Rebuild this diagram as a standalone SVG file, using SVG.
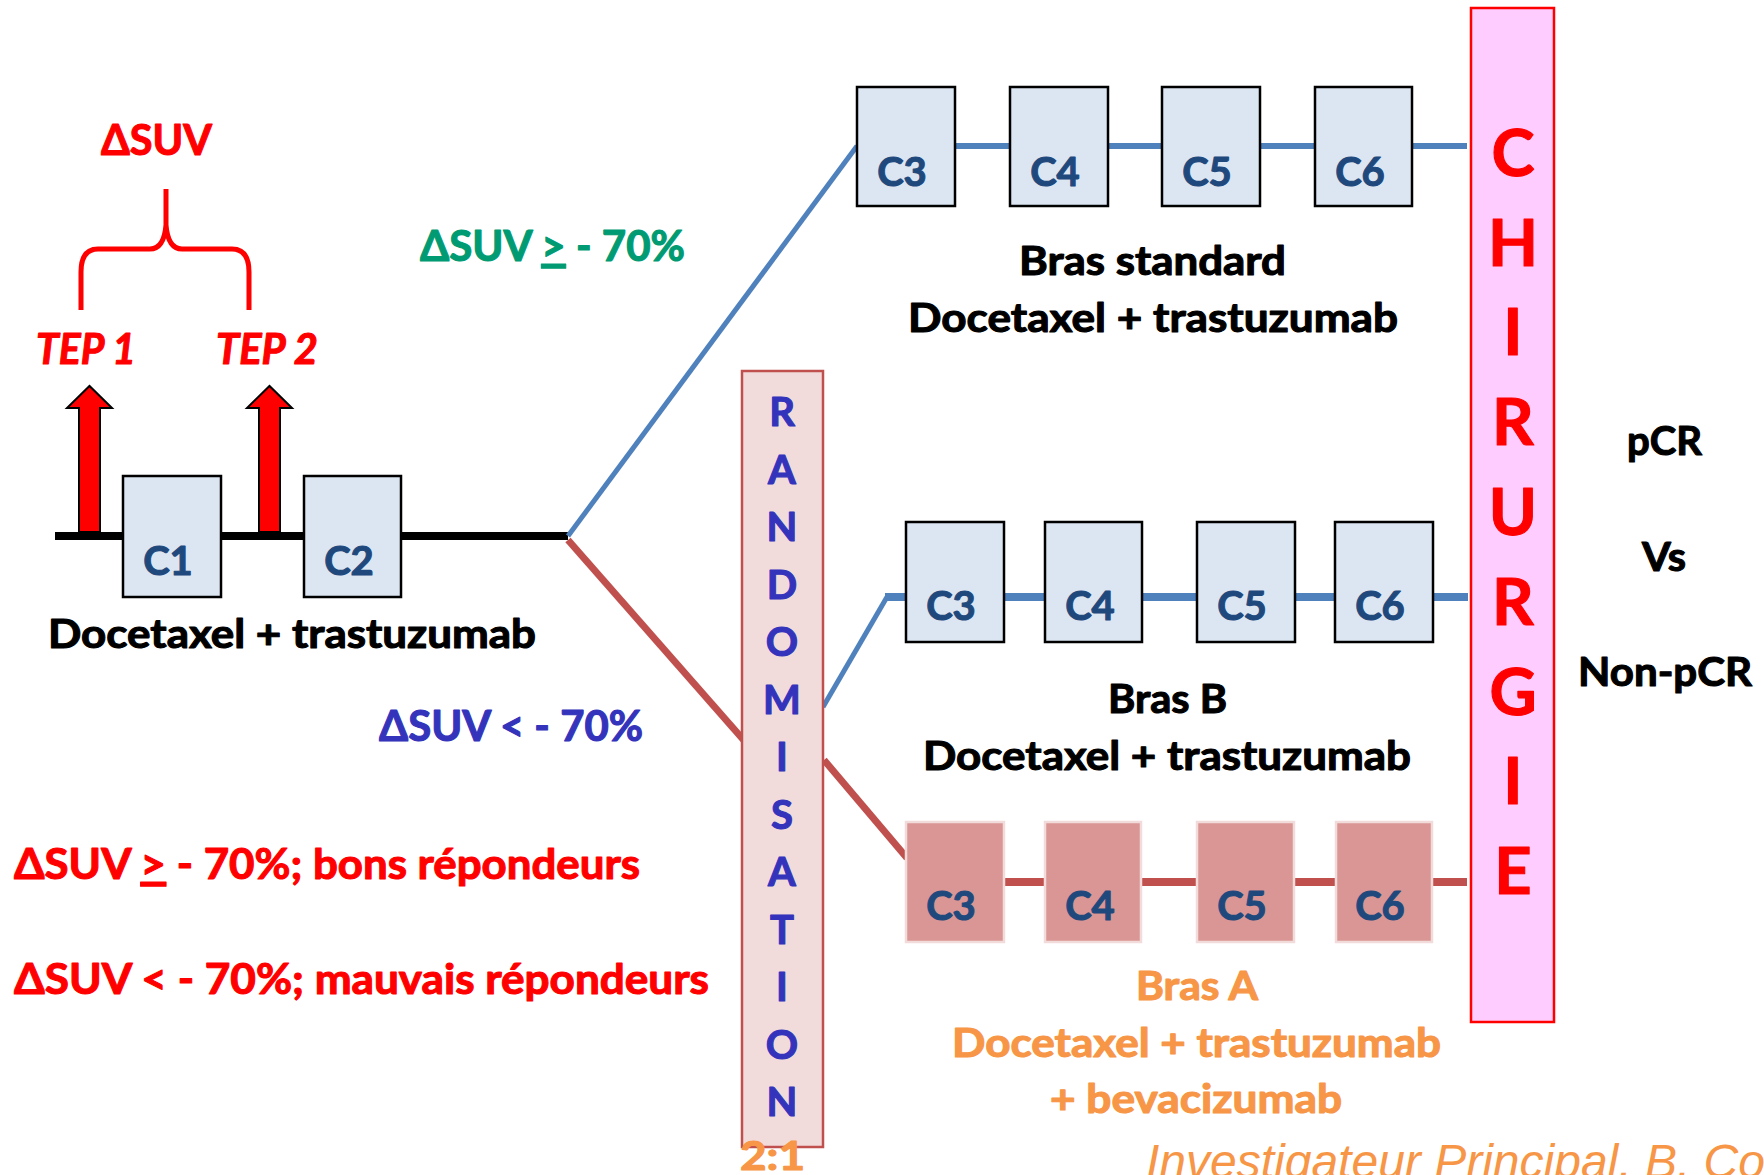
<svg xmlns="http://www.w3.org/2000/svg" width="1764" height="1175" viewBox="0 0 1764 1175">
<style>
  text { font-family: Lato, "Open Sans", "DejaVu Sans", sans-serif; font-weight: bold; stroke-width: 1.1px; stroke-linejoin: round; }
  .box { fill: #DCE6F2; stroke: #000; stroke-width: 2.5; }
  .rbox { fill: #D99694; stroke: #F2DCDB; stroke-width: 2.5; }
  .lbl { font-size: 40px; fill: #1F497D; stroke: #1F497D; text-anchor: middle; }
  .blk { font-size: 40px; fill: #000; stroke: #000; }
  .org { font-size: 40px; fill: #F79646; stroke: #F79646; }
  .red { font-size: 42px; fill: #FF0000; stroke: #FF0000; }
  .grn { font-size: 42px; fill: #009B72; stroke: #009B72; }
  .blu { font-size: 42px; fill: #3333BB; stroke: #3333BB; }
  .rnd { font-size: 40px; fill: #3333BB; stroke: #3333BB; text-anchor: middle; }
  .chi { font-size: 65px; fill: #FF0000; stroke: #FF0000; text-anchor: middle; }
  .bl { stroke: #4F81BD; fill: none; }
  .rl { stroke: #C0504D; fill: none; }
  .arrow { fill: #FF0000; stroke: #000; stroke-width: 2; }
  .credit { font-family: "Liberation Sans", Arial, sans-serif; font-weight: normal; font-style: italic; font-size: 48px; fill: #F79646; stroke: none; }
</style>

<g id="connectors">
  <line x1="55" y1="536" x2="568" y2="536" stroke="#000" stroke-width="8"/>
  <path class="bl" d="M568 536 L857 146" stroke-width="5"/>
  <path class="bl" d="M955 146 H1010 M1108 146 H1162 M1260 146 H1315 M1412 146 H1467" stroke-width="6"/>
  <path class="rl" d="M568 540 L748 745" stroke-width="7"/>
  <path class="bl" d="M823 707 L887 597" stroke-width="5"/>
  <path class="bl" d="M885 597 H906 M1004 597 H1045 M1142 597 H1197 M1295 597 H1335 M1433 597 H1468" stroke-width="8"/>
  <path class="rl" d="M824 760 L907 858" stroke-width="7"/>
  <path class="rl" d="M1004 882 H1045 M1141 882 H1197 M1294 882 H1336 M1432 882 H1467" stroke-width="8"/>
</g>

<g id="brace">
  <path d="M81 310 V272 Q81 249 98 249 H150 Q164 249 166 225 V189 M166 225 Q168 249 182 249 H232 Q249 249 249 272 V310" fill="none" stroke="#FF0000" stroke-width="5"/>
  <text class="red" x="101" y="155" textLength="111" lengthAdjust="spacingAndGlyphs">ΔSUV</text>
</g>

<g id="tep1">
  <polygon class="arrow" points="79,532 100,532 100,408 112,408 89.5,386 67,408 79,408"/>
  <text class="red" x="36" y="364" font-style="italic" textLength="100" lengthAdjust="spacingAndGlyphs">TEP 1</text>
</g>
<g id="tep2">
  <polygon class="arrow" points="259,532 280,532 280,408 292,408 269.5,386 247,408 259,408"/>
  <text class="red" x="216" y="364" font-style="italic" textLength="102" lengthAdjust="spacingAndGlyphs">TEP 2</text>
</g>

<g id="c1"><rect class="box" x="123" y="476" width="98" height="121"/><text class="lbl" x="168" y="575">C1</text></g>
<g id="c2"><rect class="box" x="304" y="476" width="97" height="121"/><text class="lbl" x="349" y="575">C2</text></g>
<g id="label-left"><text class="blk" x="48" y="648" textLength="488" lengthAdjust="spacingAndGlyphs">Docetaxel + trastuzumab</text></g>

<g id="cond-green"><text class="grn" x="420" y="261" textLength="265" lengthAdjust="spacingAndGlyphs">ΔSUV <tspan text-decoration="underline">&gt;</tspan> - 70%</text></g>
<g id="cond-blue"><text class="blu" x="379" y="741" textLength="264" lengthAdjust="spacingAndGlyphs">ΔSUV &lt; - 70%</text></g>
<g id="legend">
  <text class="red" x="14" y="879" textLength="626" lengthAdjust="spacingAndGlyphs">ΔSUV <tspan text-decoration="underline">&gt;</tspan> - 70%; bons répondeurs</text>
  <text class="red" x="14" y="994" textLength="695" lengthAdjust="spacingAndGlyphs">ΔSUV &lt; - 70%; mauvais répondeurs</text>
</g>

<g id="arm-standard">
  <g id="s-c3"><rect class="box" x="857" y="87" width="98" height="119"/><text class="lbl" x="902" y="186">C3</text></g>
  <g id="s-c4"><rect class="box" x="1010" y="87" width="98" height="119"/><text class="lbl" x="1055" y="186">C4</text></g>
  <g id="s-c5"><rect class="box" x="1162" y="87" width="98" height="119"/><text class="lbl" x="1207" y="186">C5</text></g>
  <g id="s-c6"><rect class="box" x="1315" y="87" width="97" height="119"/><text class="lbl" x="1360" y="186">C6</text></g>
  <text class="blk" x="1019" y="275" textLength="267" lengthAdjust="spacingAndGlyphs">Bras standard</text>
  <text class="blk" x="908" y="332" textLength="490" lengthAdjust="spacingAndGlyphs">Docetaxel + trastuzumab</text>
</g>

<g id="arm-b">
  <g id="b-c3"><rect class="box" x="906" y="522" width="98" height="120"/><text class="lbl" x="951" y="620">C3</text></g>
  <g id="b-c4"><rect class="box" x="1045" y="522" width="97" height="120"/><text class="lbl" x="1090" y="620">C4</text></g>
  <g id="b-c5"><rect class="box" x="1197" y="522" width="98" height="120"/><text class="lbl" x="1242" y="620">C5</text></g>
  <g id="b-c6"><rect class="box" x="1335" y="522" width="98" height="120"/><text class="lbl" x="1380" y="620">C6</text></g>
  <text class="blk" x="1108" y="713" textLength="119" lengthAdjust="spacingAndGlyphs">Bras B</text>
  <text class="blk" x="923" y="770" textLength="488" lengthAdjust="spacingAndGlyphs">Docetaxel + trastuzumab</text>
</g>

<g id="arm-a">
  <g id="a-c3"><rect class="rbox" x="906" y="822" width="98" height="120"/><text class="lbl" x="951" y="920">C3</text></g>
  <g id="a-c4"><rect class="rbox" x="1045" y="822" width="96" height="120"/><text class="lbl" x="1090" y="920">C4</text></g>
  <g id="a-c5"><rect class="rbox" x="1197" y="822" width="97" height="120"/><text class="lbl" x="1242" y="920">C5</text></g>
  <g id="a-c6"><rect class="rbox" x="1336" y="822" width="96" height="120"/><text class="lbl" x="1380" y="920">C6</text></g>
  <text class="org" x="1136" y="1000" textLength="122" lengthAdjust="spacingAndGlyphs">Bras A</text>
  <text class="org" x="952" y="1057" textLength="489" lengthAdjust="spacingAndGlyphs">Docetaxel + trastuzumab</text>
  <text class="org" x="1050" y="1113" textLength="292" lengthAdjust="spacingAndGlyphs">+ bevacizumab</text>
</g>

<g id="randomisation">
  <rect x="742" y="371" width="81" height="776" fill="#F2DCDB" stroke="#C0504D" stroke-width="2.5"/>
  <text class="rnd" x="782" y="426">R</text>
  <text class="rnd" x="782" y="483.5">A</text>
  <text class="rnd" x="782" y="541">N</text>
  <text class="rnd" x="782" y="598.5">D</text>
  <text class="rnd" x="782" y="656">O</text>
  <text class="rnd" x="782" y="713.5">M</text>
  <text class="rnd" x="782" y="771">I</text>
  <text class="rnd" x="782" y="828.5">S</text>
  <text class="rnd" x="782" y="886">A</text>
  <text class="rnd" x="782" y="943.5">T</text>
  <text class="rnd" x="782" y="1001">I</text>
  <text class="rnd" x="782" y="1058.5">O</text>
  <text class="rnd" x="782" y="1116">N</text>
  <text class="org" x="740" y="1170" font-size="44" textLength="65" lengthAdjust="spacingAndGlyphs">2:1</text>
</g>

<g id="chirurgie">
  <rect x="1471" y="8" width="83" height="1014" fill="#FFCCFF" stroke="#FF0000" stroke-width="2.5"/>
  <text class="chi" x="1513" y="176">C</text>
  <text class="chi" x="1513" y="266">H</text>
  <text class="chi" x="1513" y="355">I</text>
  <text class="chi" x="1513" y="445">R</text>
  <text class="chi" x="1513" y="535">U</text>
  <text class="chi" x="1513" y="625">R</text>
  <text class="chi" x="1513" y="715">G</text>
  <text class="chi" x="1513" y="804">I</text>
  <text class="chi" x="1513" y="894">E</text>
</g>

<g id="outcome">
  <text class="blk" x="1627" y="455" textLength="75" lengthAdjust="spacingAndGlyphs">pCR</text>
  <text class="blk" x="1642" y="571" textLength="44" lengthAdjust="spacingAndGlyphs">Vs</text>
  <text class="blk" x="1578" y="686" textLength="174" lengthAdjust="spacingAndGlyphs">Non-pCR</text>
</g>

<g id="credit">
  <text class="credit" x="1146" y="1178">Investigateur Principal, B. Co</text>
</g>
</svg>
